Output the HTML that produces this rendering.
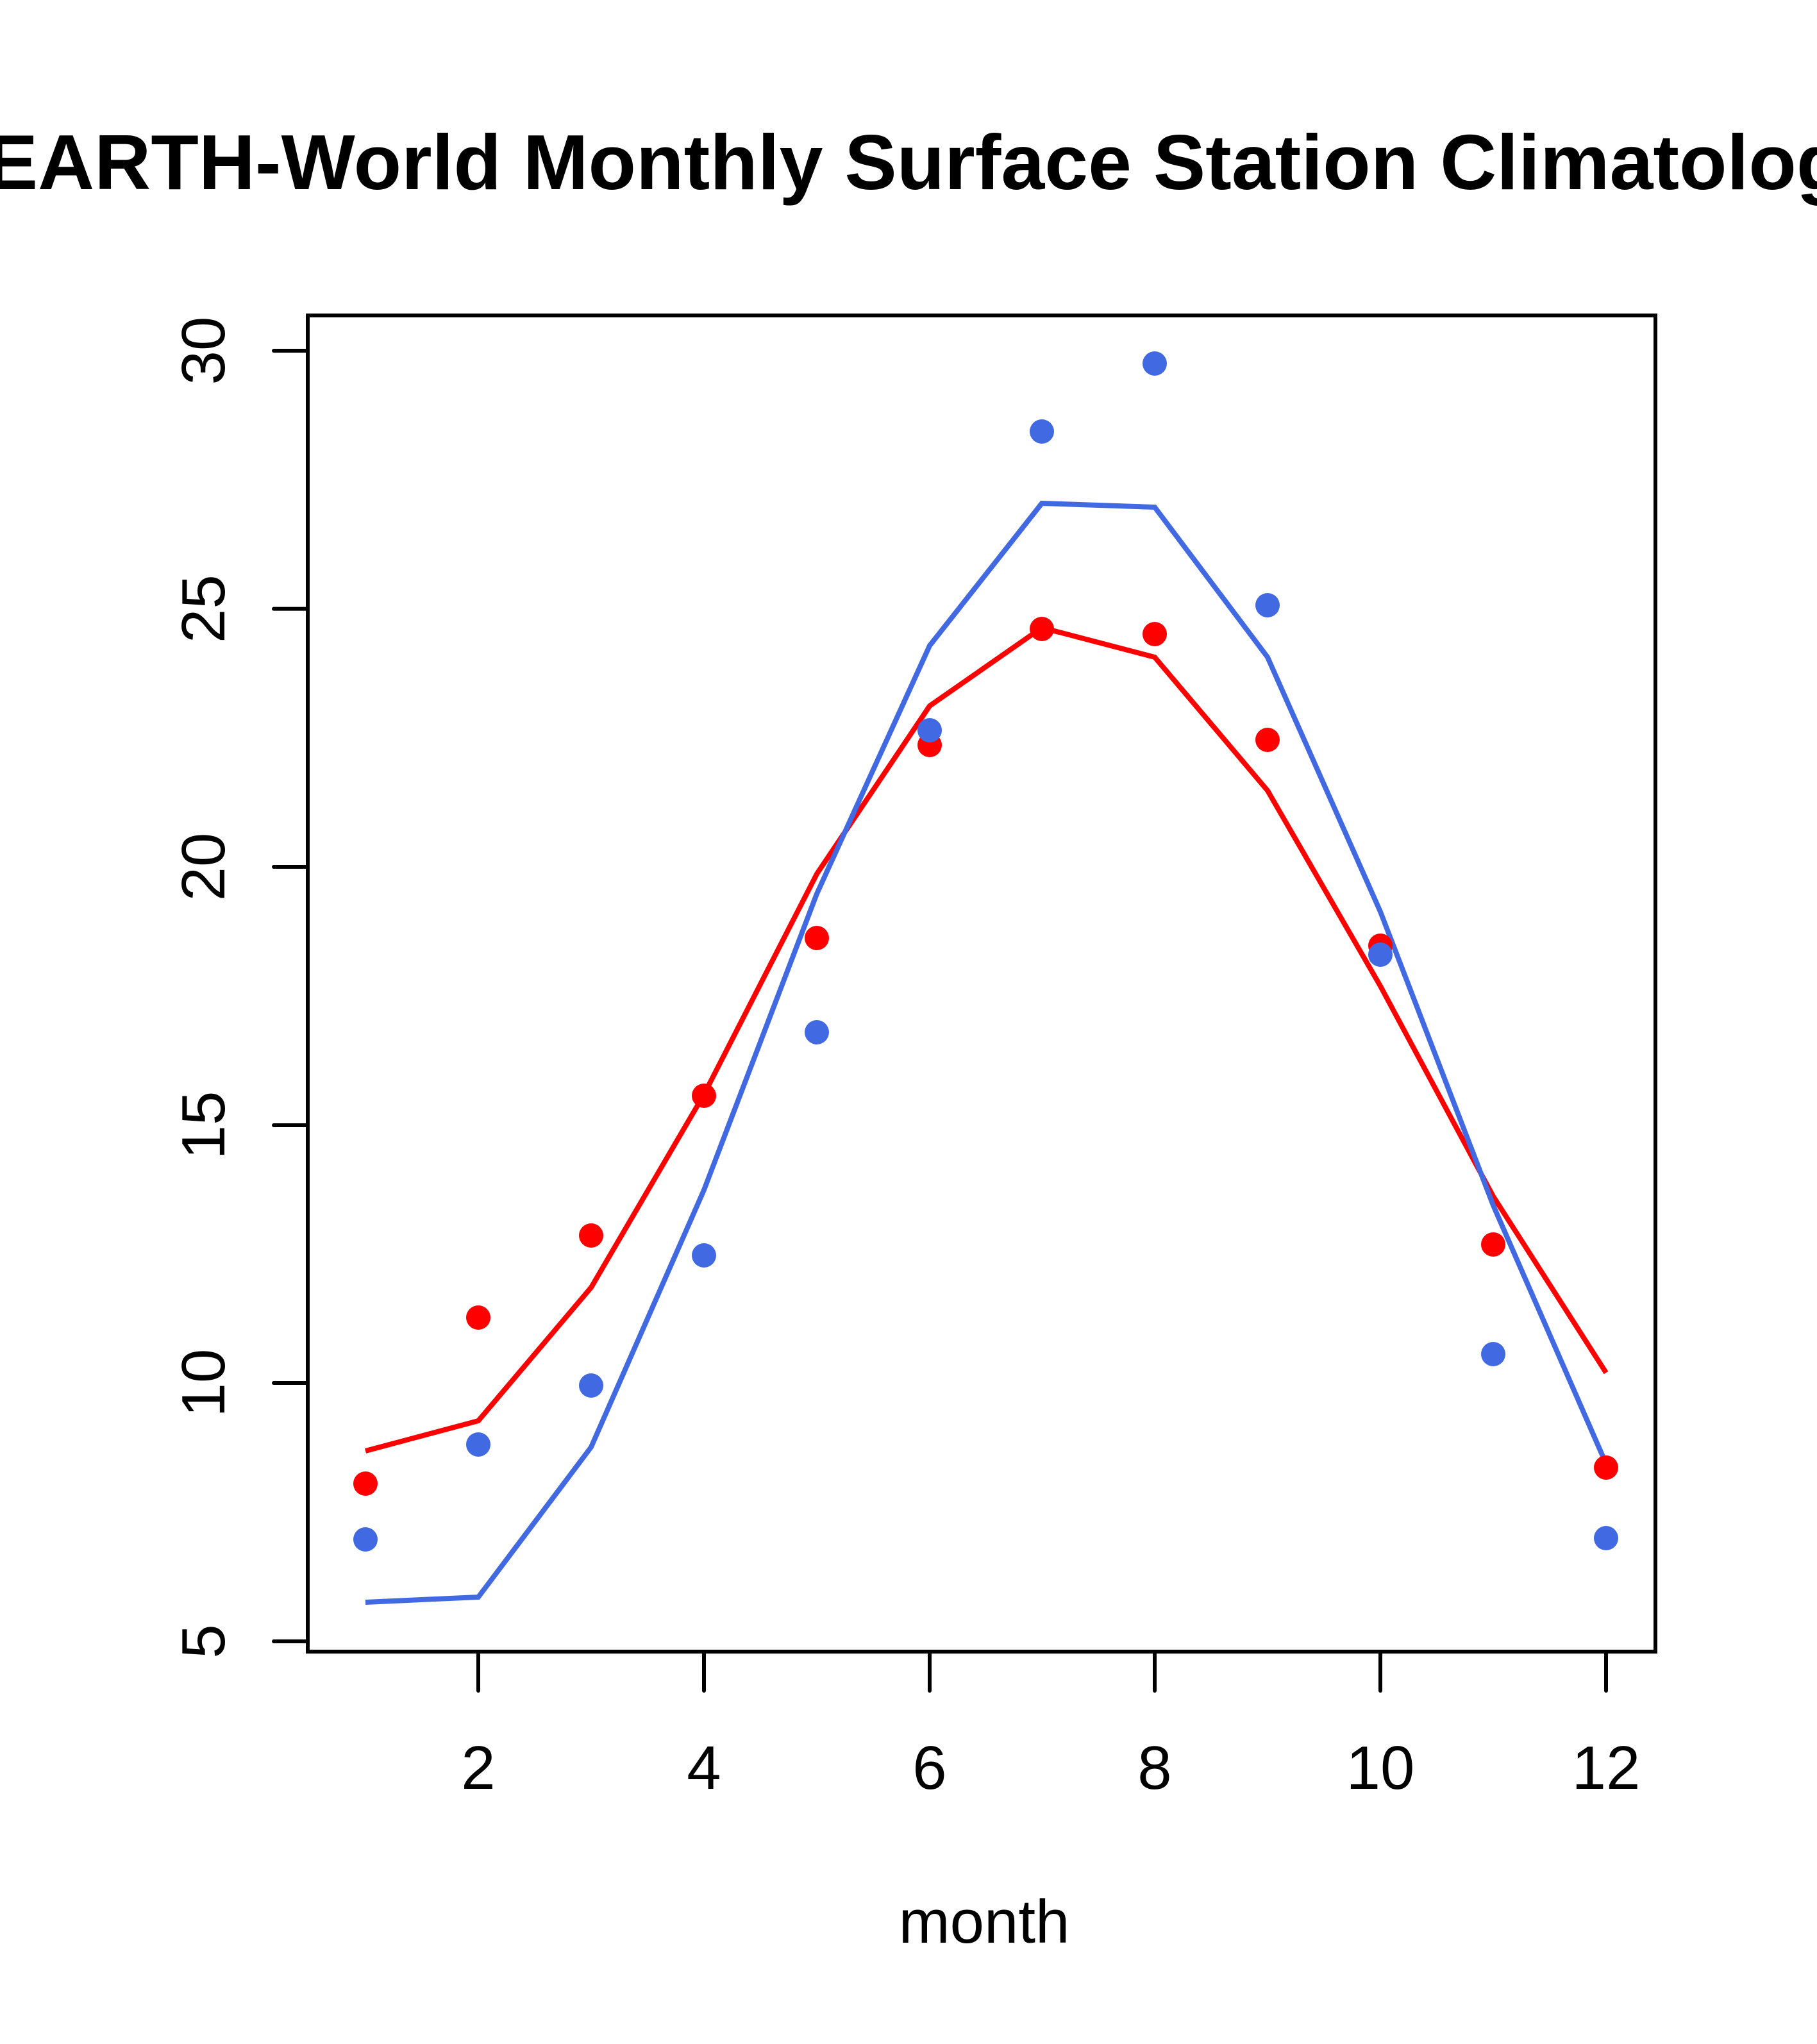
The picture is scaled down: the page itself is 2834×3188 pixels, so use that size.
<!DOCTYPE html>
<html><head><meta charset="utf-8"><style>
html,body{margin:0;padding:0;background:#fff;}
svg{display:block;}
text{font-family:"Liberation Sans",Arial,sans-serif;fill:#000;}
</style></head><body>
<svg width="2834" height="3188" viewBox="0 0 2834 3188" xmlns="http://www.w3.org/2000/svg">
<rect width="2834" height="3188" fill="#fff"/>
<text x="1417" y="295" font-size="122" font-weight="bold" text-anchor="middle">BEARTH-World Monthly Surface Station Climatology</text>
<rect x="480" y="492" width="2102" height="2084" fill="none" stroke="#000" stroke-width="6"/>
<g stroke="#000" stroke-width="6" stroke-linecap="round">
<line x1="427" y1="547" x2="480" y2="547"/>
<line x1="427" y1="949.6" x2="480" y2="949.6"/>
<line x1="427" y1="1352" x2="480" y2="1352"/>
<line x1="427" y1="1755" x2="480" y2="1755"/>
<line x1="427" y1="2157" x2="480" y2="2157"/>
<line x1="427" y1="2560" x2="480" y2="2560"/>
<line x1="746" y1="2576" x2="746" y2="2637"/>
<line x1="1098" y1="2576" x2="1098" y2="2637"/>
<line x1="1450" y1="2576" x2="1450" y2="2637"/>
<line x1="1801" y1="2576" x2="1801" y2="2637"/>
<line x1="2153" y1="2576" x2="2153" y2="2637"/>
<line x1="2505" y1="2576" x2="2505" y2="2637"/>
</g>
<g font-size="96" text-anchor="middle">
<text x="746" y="2790">2</text>
<text x="1098" y="2790">4</text>
<text x="1450" y="2790">6</text>
<text x="1801" y="2790">8</text>
<text x="2153" y="2790">10</text>
<text x="2505" y="2790">12</text>
<text transform="translate(350,547) rotate(-90)">30</text>
<text transform="translate(350,949.6) rotate(-90)">25</text>
<text transform="translate(350,1352) rotate(-90)">20</text>
<text transform="translate(350,1755) rotate(-90)">15</text>
<text transform="translate(350,2157) rotate(-90)">10</text>
<text transform="translate(350,2560) rotate(-90)">5</text>
<text x="1535" y="3030">month</text>
</g>
<polyline fill="none" stroke="#ff0000" stroke-width="8" points="570,2263 746,2216 922,2008 1098,1707 1274,1363 1450,1101 1625,979 1801,1025 1977,1233 2153,1538 2329,1866 2505,2141"/>
<polyline fill="none" stroke="#4169e1" stroke-width="8" points="570,2499 746,2491 922,2257 1098,1856 1274,1394 1450,1007 1625,785 1801,791 1977,1025 2153,1422 2329,1880 2505,2283"/>
<g fill="#ff0000">
<circle cx="570" cy="2314" r="19"/><circle cx="746" cy="2055" r="19"/><circle cx="922" cy="1927" r="19"/><circle cx="1098" cy="1709" r="19"/><circle cx="1274" cy="1463" r="19"/><circle cx="1450" cy="1162" r="19"/><circle cx="1625" cy="981" r="19"/><circle cx="1801" cy="989" r="19"/><circle cx="1977" cy="1154" r="19"/><circle cx="2153" cy="1475" r="19"/><circle cx="2329" cy="1941" r="19"/><circle cx="2505" cy="2289" r="19"/>
</g>
<g fill="#4169e1">
<circle cx="570" cy="2401" r="19"/><circle cx="746" cy="2253" r="19"/><circle cx="922" cy="2161" r="19"/><circle cx="1098" cy="1958" r="19"/><circle cx="1274" cy="1610" r="19"/><circle cx="1450" cy="1139" r="19"/><circle cx="1625" cy="673" r="19"/><circle cx="1801" cy="567" r="19"/><circle cx="1977" cy="944" r="19"/><circle cx="2153" cy="1489" r="19"/><circle cx="2329" cy="2112" r="19"/><circle cx="2505" cy="2399" r="19"/>
</g>
</svg>
</body></html>
